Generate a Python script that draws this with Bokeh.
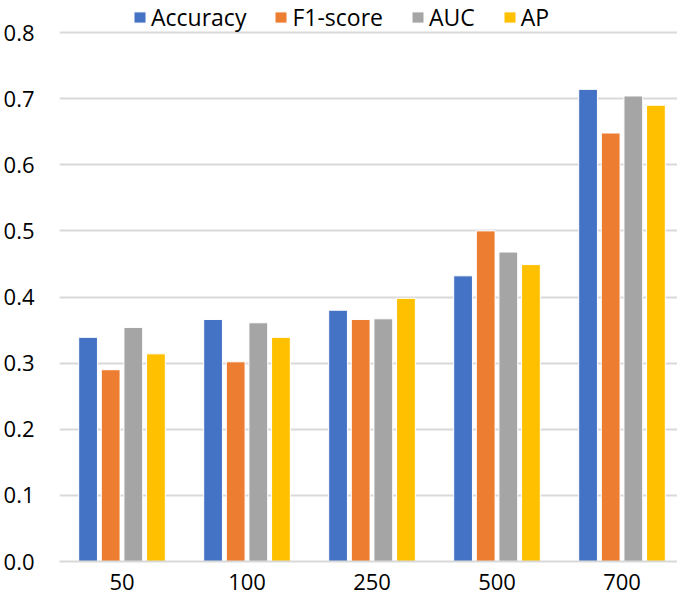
import numpy as np
from bokeh.plotting import figure
from bokeh.models import (ColumnDataSource, Range1d, FixedTicker, Legend,
                          LegendItem, CustomJSTickFormatter)
from bokeh.embed import file_html
from bokeh.resources import INLINE

categories = ["50", "100", "250", "500", "700"]
accuracy = [0.339, 0.366, 0.380, 0.432, 0.714]
f1_score = [0.290, 0.302, 0.366, 0.500, 0.648]
auc = [0.354, 0.361, 0.367, 0.468, 0.704]
ap = [0.314, 0.339, 0.398, 0.449, 0.690]
series_names = ["Accuracy", "F1-score", "AUC", "AP"]
colors = ["#4472C4", "#ED7D31", "#A5A5A5", "#FFC000"]
y_ticks = [0.0, 0.1, 0.2, 0.3, 0.4, 0.5, 0.6, 0.7, 0.8]

series = [accuracy, f1_score, auc, ap]
centers = np.arange(len(categories)) + 0.5

FONT = "Open Sans"
W, H = 677, 604
LEFT, BOTTOM = 58, 43
frame_h = H - BOTTOM          # 561
p = figure(width=W, height=H, output_backend="svg", toolbar_location=None,
           x_range=Range1d(0, len(categories) - 0.056),
           y_range=Range1d(0, 0.8 * frame_h / 529),
           min_border_left=LEFT, min_border_right=0, min_border_top=0, min_border_bottom=BOTTOM)
p.outline_line_color = None
p.background_fill_color = "white"
p.border_fill_color = "white"

slot = 0.181
offsets = [-1.5 * slot, -0.5 * slot, 0.5 * slot, 1.5 * slot]
renderers = []
for i, (name, col, vals) in enumerate(zip(series_names, colors, series)):
    src = ColumnDataSource(dict(x=centers + offsets[i], top=vals, cat=categories))
    r = p.vbar(x="x", top="top", width=0.15, source=src,
               fill_color=col, line_color="white", line_width=1)
    renderers.append(r)

LEG_H = 33
legend = Legend(items=[LegendItem(label=n, renderers=[r]) for n, r in zip(series_names, renderers)],
                orientation="horizontal", location=(73, frame_h - LEG_H))
legend.border_line_color = None
legend.background_fill_alpha = 0
legend.padding = 0
legend.margin = 0
legend.spacing = 27
legend.glyph_width = 15
legend.glyph_height = 14
legend.label_standoff = 4
legend.label_height = LEG_H
legend.label_text_font = FONT
legend.label_text_font_size = "23px"
legend.label_text_color = "#000000"
p.add_layout(legend, "center")

# y axis
p.yaxis.ticker = FixedTicker(ticks=y_ticks)
p.yaxis.formatter = CustomJSTickFormatter(code="return tick.toFixed(1);")
p.yaxis.axis_line_color = None
p.yaxis.major_tick_line_color = None
p.yaxis.minor_tick_line_color = None
p.yaxis.major_tick_out = 0
p.yaxis.major_tick_in = 0
p.yaxis.major_label_standoff = 25
p.yaxis.major_label_text_font = FONT
p.yaxis.major_label_text_font_size = "22px"
p.yaxis.major_label_text_color = "#000000"

# x axis (categorical labels on numeric positions)
p.xaxis.ticker = FixedTicker(ticks=list(centers))
p.xaxis.major_label_overrides = {float(c): lab for c, lab in zip(centers, categories)}
p.xaxis.axis_line_color = "#D9D9D9"
p.xaxis.axis_line_width = 2
p.xaxis.major_tick_line_color = None
p.xaxis.minor_tick_line_color = None
p.xaxis.major_tick_out = 0
p.xaxis.major_tick_in = 0
p.xaxis.major_label_standoff = 12
p.xaxis.major_label_text_font = FONT
p.xaxis.major_label_text_font_size = "22px"
p.xaxis.major_label_text_color = "#000000"

p.xgrid.grid_line_color = None
p.ygrid.grid_line_color = "#D9D9D9"
p.ygrid.grid_line_width = 2

open("out.html", "w").write(file_html(p, INLINE))
